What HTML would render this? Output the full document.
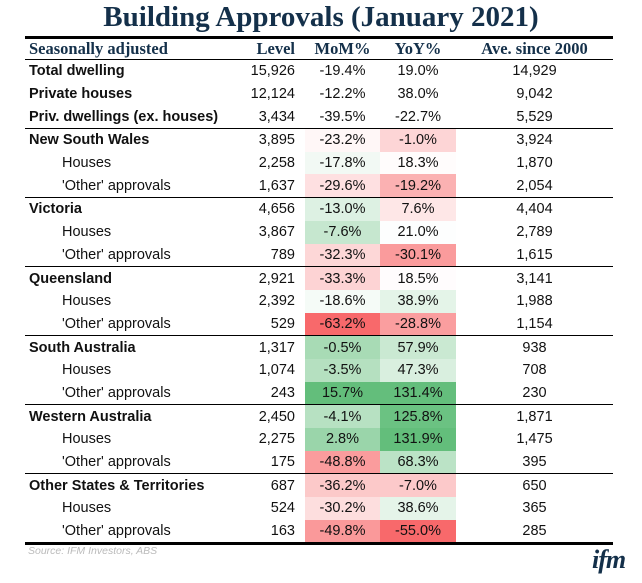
<!DOCTYPE html>
<html><head><meta charset="utf-8"><style>
body{margin:0;width:642px;height:583px;background:#fff;position:relative;overflow:hidden;font-family:"Liberation Sans",sans-serif;color:#111}
#title{position:absolute;left:0;width:642px;top:1px;text-align:center;font:bold 29px "Liberation Serif",serif;color:#14304a}
table{position:absolute;left:25px;top:36px;width:588px;border-collapse:collapse;font-size:14.5px;table-layout:fixed}
td,th{height:22.7px;padding:0;white-space:nowrap;line-height:20px}
th{font:bold 16.5px "Liberation Serif",serif;color:#14304a;height:20px}
thead tr{border-top:3px solid #000;border-bottom:1.5px solid #000}
tr.grp{border-top:1.5px solid #000}
tbody{border-bottom:3px solid #000}
.l{text-align:left;padding-left:4px}.r{text-align:right}.c{text-align:center}
.b{font-weight:bold}.ind{padding-left:37px}
#src{position:absolute;left:28px;top:545px;font-size:10.5px;font-style:italic;color:#bbb}
#logo{position:absolute;left:592px;top:545px;font:bold italic 26px "Liberation Serif",serif;color:#14304a;letter-spacing:-1px}
</style></head><body>
<div id="title">Building Approvals (January 2021)</div>
<table>
<colgroup><col style="width:215px"><col style="width:55px"><col style="width:10px"><col style="width:75px"><col style="width:76px"><col style="width:157px"></colgroup>
<thead><tr><th class="l">Seasonally adjusted</th><th class="r">Level</th><th></th><th class="c">MoM%</th><th class="c">YoY%</th><th class="c">Ave. since 2000</th></tr></thead>
<tbody id="tb"></tbody></table>
<div id="src">Source: IFM Investors, ABS</div>
<div id="logo">ifm</div>
<script>
const labels=["Total dwelling","Private houses","Priv. dwellings (ex. houses)","New South Wales","Houses","'Other' approvals","Victoria","Houses","'Other' approvals","Queensland","Houses","'Other' approvals","South Australia","Houses","'Other' approvals","Western Australia","Houses","'Other' approvals","Other States & Territories","Houses","'Other' approvals"];
const levels=["15,926","12,124","3,434","3,895","2,258","1,637","4,656","3,867","789","2,921","2,392","529","1,317","1,074","243","2,450","2,275","175","687","524","163"];
const mom=[-19.4,-12.2,-39.5,-23.2,-17.8,-29.6,-13.0,-7.6,-32.3,-33.3,-18.6,-63.2,-0.5,-3.5,15.7,-4.1,2.8,-48.8,-36.2,-30.2,-49.8];
const yoy=[19.0,38.0,-22.7,-1.0,18.3,-19.2,7.6,21.0,-30.1,18.5,38.9,-28.8,57.9,47.3,131.4,125.8,131.9,68.3,-7.0,38.6,-55.0];
const avg=["14,929","9,042","5,529","3,924","1,870","2,054","4,404","2,789","1,615","3,141","1,988","1,154","938","708","230","1,871","1,475","395","650","365","285"];
function scale(arr){
  const v=arr.slice(3),s=v.slice().sort((a,b)=>a-b),n=s.length;
  const mid=(s[n/2-1]+s[n/2])/2,mn=s[0],mx=s[n-1];
  return x=>{let c1=[255,255,255],c2,t;
    if(x<mid){c2=[248,105,107];t=(mid-x)/(mid-mn);}else{c2=[99,190,123];t=(x-mid)/(mx-mid);}
    return 'rgb('+c1.map((c,i)=>Math.round(c+(c2[i]-c)*t)).join(',')+')';};
}
const sm=scale(mom),sy=scale(yoy);
const tb=document.getElementById('tb');
labels.forEach((lab,i)=>{
  const tr=document.createElement('tr');
  
  
  const top=i<3||i%3==0;
  if(i>=3&&i%3==0)tr.className='grp';
  const f=v=>v.toFixed(1)+'%';
  tr.innerHTML=`<td class="l ${top?'b':'ind'}">${lab}</td><td class="r">${levels[i]}</td><td></td>`+
   `<td class="c" style="background:${i>=3?sm(mom[i]):'#fff'}">${f(mom[i])}</td>`+
   `<td class="c" style="background:${i>=3?sy(yoy[i]):'#fff'}">${f(yoy[i])}</td><td class="c">${avg[i]}</td>`;
  tb.appendChild(tr);
});
</script>
</body></html>
